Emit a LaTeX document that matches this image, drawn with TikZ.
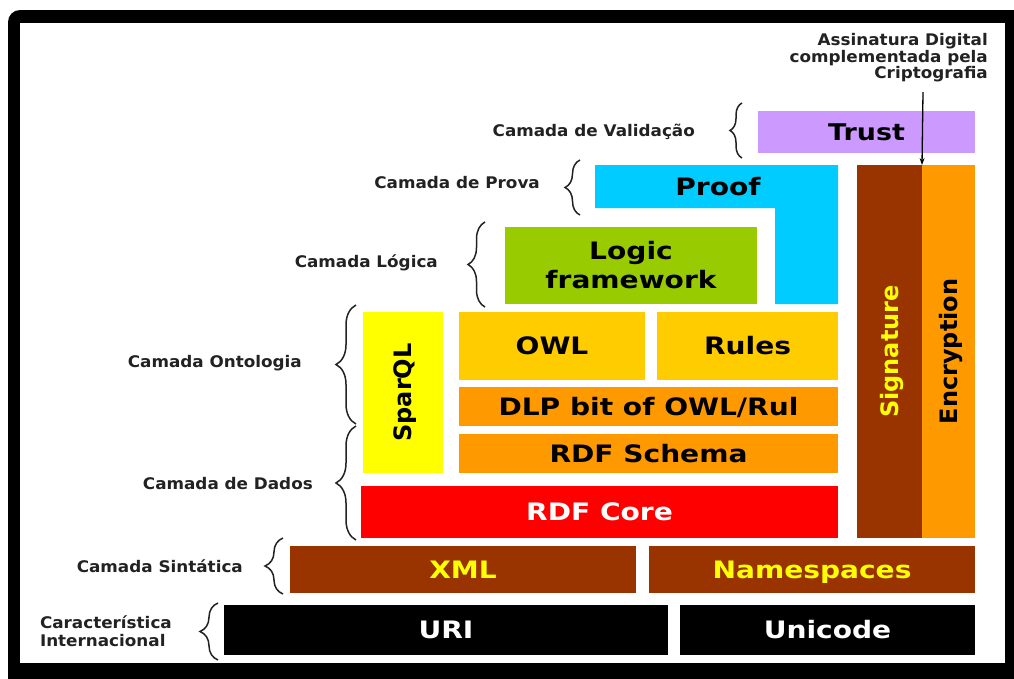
\documentclass[tikz,border=0pt]{standalone}
\usepackage{fontspec}
\setmainfont{DejaVu Sans}
\usetikzlibrary{decorations.pathreplacing,arrows.meta}
\definecolor{trustc}{RGB}{204,153,255}
\definecolor{proofc}{RGB}{0,204,255}
\definecolor{logicc}{RGB}{153,204,0}
\definecolor{sparqlc}{RGB}{255,255,0}
\definecolor{owlc}{RGB}{255,204,0}
\definecolor{orangec}{RGB}{255,153,0}
\definecolor{redc}{RGB}{255,0,0}
\definecolor{brownc}{RGB}{153,51,0}
\definecolor{yelt}{RGB}{255,255,0}
\definecolor{labc}{RGB}{34,34,34}
\newcommand{\stretchtxt}[1]{\scalebox{1.17}[1]{#1}}
\newcommand{\lstretch}[1]{\scalebox{1.05}[1]{#1}}
\begin{document}
\begin{tikzpicture}[x=1pt,y=-1pt,
  layer/.style={anchor=north west, inner sep=0pt, outer sep=0pt, text=black,
    font=\bfseries\fontsize{24}{29}\selectfont, text height=17.5pt, text depth=0pt},
  vtxt/.style={rotate=90, inner sep=0pt, font=\bfseries\fontsize{24}{29}\selectfont,
    text height=17.5pt, text depth=0pt},
  lab/.style={anchor=east, inner sep=0pt, text=labc, font=\bfseries\fontsize{16}{18}\selectfont},
  brc/.style={draw=labc, line width=1.5pt, decorate},
]
\useasboundingbox (0,0) rectangle (1014,678);
\clip (0,0) rectangle (1014,678);
% frame
\fill[black, rounded corners=12pt] (8,10) rectangle (1040,700);
\fill[white] (20,23) rectangle (1005,663);

% layers
\node[layer, fill=trustc, minimum width=217pt, minimum height=42pt, font=\bfseries\fontsize{23}{28}\selectfont, text height=16.8pt] (trust) at (758,111) {\stretchtxt{Trust}};
\fill[proofc] (595,165) -- (838,165) -- (838,304) -- (775,304) -- (775,208) -- (595,208) -- cycle;
\node[inner sep=0pt, text=black, font=\bfseries\fontsize{24}{29}\selectfont, text height=17.5pt, text depth=0pt] (proof) at (718,187) {\stretchtxt{Proof}};
\node[layer, fill=logicc, minimum width=252pt, minimum height=77pt, align=center, text height=, text depth=] (logic) at (505,227) {\stretchtxt{Logic}\\\stretchtxt{framework}};
\node[layer, fill=sparqlc, minimum width=80pt, minimum height=161pt] (sparql) at (363,312) {};
\node[vtxt, text=black] (sparqlt) at (sparql.center) {SparQL};
\node[layer, fill=owlc, minimum width=186pt, minimum height=68pt] (owl) at (459,312) {\stretchtxt{OWL}};
\node[layer, fill=owlc, minimum width=181pt, minimum height=68pt] (rules) at (657,312) {\stretchtxt{Rules}};
\node[layer, fill=orangec, minimum width=379pt, minimum height=39pt] (dlp) at (459,387) {\stretchtxt{DLP bit of OWL/Rul}};
\node[layer, fill=orangec, minimum width=379pt, minimum height=39pt] (rdfs) at (459,434) {\stretchtxt{RDF Schema}};
\node[layer, fill=redc, minimum width=477pt, minimum height=52pt, text=white] (rdfcore) at (361,486) {\stretchtxt{RDF Core}};
\node[layer, fill=brownc, minimum width=65pt, minimum height=373pt] (sig) at (857,165) {};
\node[vtxt, text=yelt] (sigt) at (sig.center) {Signature};
\node[layer, fill=orangec, minimum width=53pt, minimum height=373pt] (enc) at (922,165) {};
\node[vtxt, text=black] (enct) at (enc.center) {Encryption};
\node[layer, fill=brownc, minimum width=346pt, minimum height=47pt, text=yelt] (xml) at (290,546) {\stretchtxt{XML}};
\node[layer, fill=brownc, minimum width=326pt, minimum height=47pt, text=yelt] (ns) at (649,546) {\stretchtxt{Namespaces}};
\node[layer, fill=black, minimum width=444pt, minimum height=50pt, text=white] (uri) at (224,605) {\stretchtxt{URI}};
\node[layer, fill=black, minimum width=295pt, minimum height=50pt, text=white] (uni) at (680,605) {\stretchtxt{Unicode}};

% arrow
\node[anchor=east, inner sep=0pt, text=labc, align=right, font=\bfseries\fontsize{16}{16.5}\selectfont] (assin) at (988,58) {\lstretch{Assinatura Digital}\\\lstretch{complementada pela}\\\lstretch{Criptografia}};
\coordinate (arrtop) at (923,92);
\draw[line width=1.3pt, -{Stealth[length=7pt,width=5pt]}] (arrtop) -- (sig.north east);

% braces
\draw[brc, decoration={brace, amplitude=12pt}] (742,158) -- (742,103);
\draw[brc, decoration={brace, amplitude=15pt}] (580,215) -- (580,160);
\draw[brc, decoration={brace, amplitude=17pt}] (485,307) -- (485,222);
\draw[brc, decoration={brace, amplitude=20pt}] (356,424) -- (356,305);
\draw[brc, decoration={brace, amplitude=20pt}] (356,540) -- (356,426);
\draw[brc, decoration={brace, amplitude=18pt}] (283,594) -- (283,538);
\draw[brc, decoration={brace, amplitude=18pt}] (218,660) -- (218,603);

% labels
\node[lab] (lval) at (695,132) {\lstretch{Camada de Validação}};
\node[lab] (lprova) at (540,183) {\lstretch{Camada de Prova}};
\node[lab] (llog) at (438,263) {\lstretch{Camada Lógica}};
\node[lab] (lont) at (302,363) {\lstretch{Camada Ontologia}};
\node[lab] (ldad) at (313,484) {\lstretch{Camada de Dados}};
\node[lab] (lsin) at (243,566) {\lstretch{Camada Sintática}};
\node[lab, align=left] (lcar) at (172,631) {\lstretch{Característica}\\\lstretch{Internacional}};
\end{tikzpicture}
\end{document}
